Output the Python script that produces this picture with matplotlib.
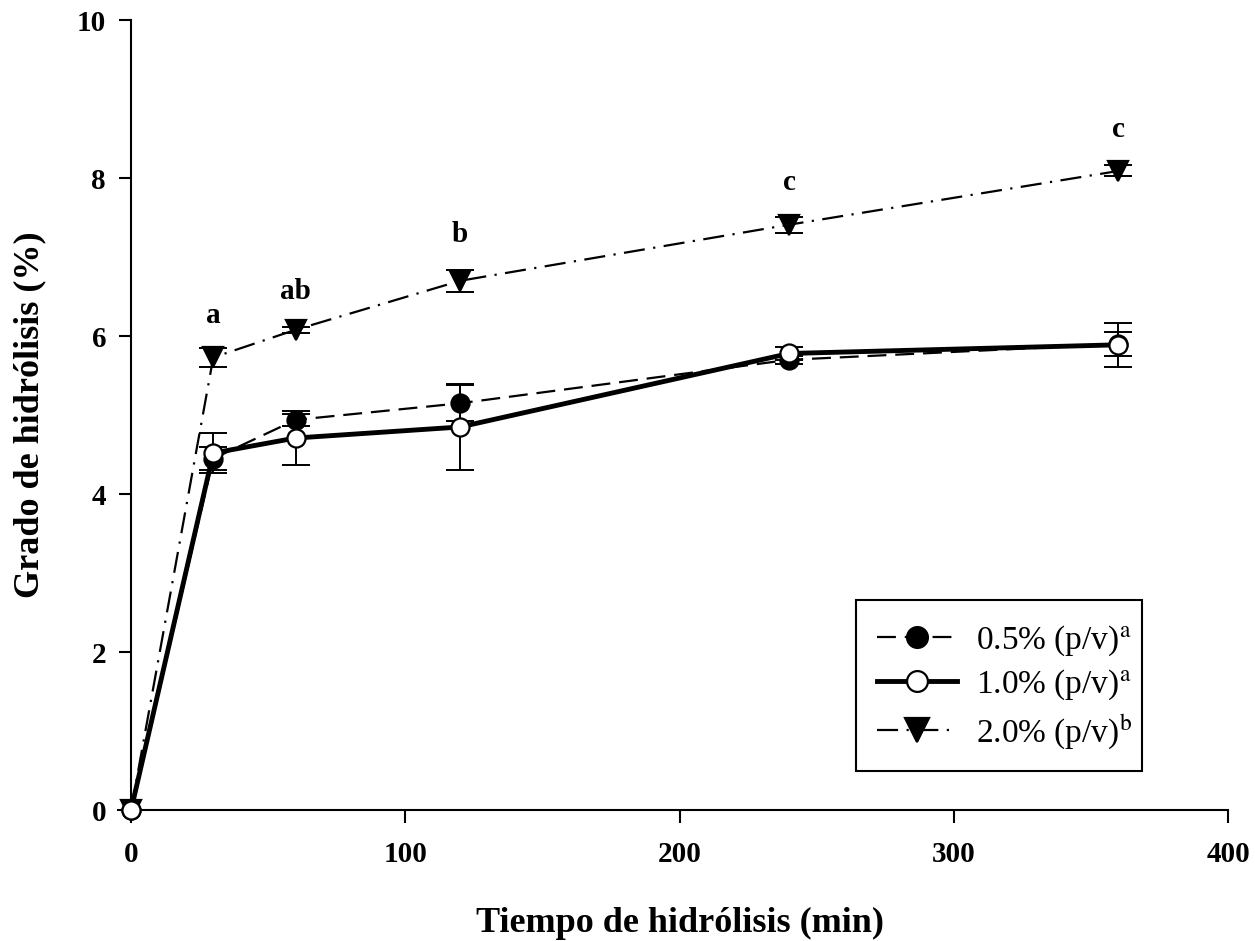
import numpy as np
import matplotlib
matplotlib.use("Agg")
import matplotlib.pyplot as plt
from matplotlib.lines import Line2D
from matplotlib.patches import Rectangle

plt.rcParams['font.family'] = ['Liberation Serif', 'DejaVu Serif']
plt.rcParams['mathtext.fontset'] = 'stix'

# hydrolysis time (min) and degree of hydrolysis (%)
tiempo = [0, 30, 60, 120, 240, 360]

gh_05 = [0, 4.45, 4.94, 5.15, 5.70, 5.90]
err_05 = [0, 0.15, 0.08, 0.23, 0.05, 0.15]

gh_10 = [0, 4.52, 4.71, 4.85, 5.78, 5.89]
err_10 = [0, 0.25, 0.34, 0.55, 0.08, 0.28]

gh_20 = [0, 5.73, 6.08, 6.70, 7.41, 8.09]
err_20 = [0, 0.12, 0.04, 0.14, 0.10, 0.07]

# significance letters above the 2.0% series
letras = ['a', 'ab', 'b', 'c', 'c']
letras_t = [30, 60, 120, 240, 360]
letras_y = [6.26, 6.57, 7.28, 7.95, 8.62]

fig = plt.figure(figsize=(12.55, 9.41), dpi=100)
ax = fig.add_axes([0.1044, 0.139, 0.8741, 0.8397])

series = [
    (gh_05, err_05, 'o', 13, (0, (8.5, 4)), 1.6, 'black', r'0.5% (p/v)$^{\rm a}$'),
    (gh_10, err_10, 'o', 13, '-', 3.5, 'white', r'1.0% (p/v)$^{\rm a}$'),
    (gh_20, err_20, 'v', 15, (0, (9.5, 3.8, 1, 3.8)), 1.6, 'black', r'2.0% (p/v)$^{\rm b}$'),
]

handles = []
for y, e, m, ms, ls, lw, fc, lab in series:
    z = 4 if fc == 'white' else 3
    ax.errorbar(tiempo, y, yerr=e, fmt='none', ecolor='black', elinewidth=1.4,
                capsize=10, capthick=1.4, zorder=2, clip_on=False)
    ax.plot(tiempo, y, color='black', linestyle=ls, linewidth=lw, marker=m,
            markersize=ms, markerfacecolor=fc, markeredgecolor='black',
            markeredgewidth=1.6, zorder=z, clip_on=False)
    handles.append(Line2D([], [], color='black', linestyle=ls, linewidth=lw, marker=m,
                          markersize=ms + 2, markerfacecolor=fc, markeredgecolor='black',
                          markeredgewidth=1.6, label=lab))

for t, yy, s in zip(letras_t, letras_y, letras):
    ax.text(t, yy, s, ha='center', va='center', fontsize=21, fontweight='bold')

ax.set_xlim(0, 400)
ax.set_ylim(0, 10)
ax.set_xticks([0, 100, 200, 300, 400])
ax.set_yticks([0, 2, 4, 6, 8, 10])
ax.spines['top'].set_visible(False)
ax.spines['right'].set_visible(False)
ax.spines['left'].set_linewidth(1.5)
ax.spines['bottom'].set_linewidth(1.5)
ax.tick_params(direction='out', length=9, width=1.5, labelsize=21)
ax.tick_params(axis='x', pad=13)
ax.tick_params(axis='y', pad=9)
for lab in ax.get_xticklabels() + ax.get_yticklabels():
    lab.set_fontweight('bold')

ax.set_xlabel('Tiempo de hidrólisis (min)', fontsize=26, fontweight='bold', labelpad=28)
ax.set_ylabel('Grado de hidrólisis (%)', fontsize=26, fontweight='bold', labelpad=22)

# legend box drawn separately so it hugs the labels
fig.patches.append(Rectangle((0.682, 0.1807), 0.2279, 0.1817, transform=fig.transFigure,
                             fill=False, edgecolor='black', linewidth=1.5, zorder=5))
leg = ax.legend(handles=handles, loc='upper left', bbox_to_anchor=(0.6988, 0.3375),
                bbox_transform=fig.transFigure, fontsize=24, frameon=False,
                borderpad=0, borderaxespad=0, handlelength=2.4, labelspacing=0.3,
                handletextpad=0.57)

fig.savefig('out.png', dpi=100)
